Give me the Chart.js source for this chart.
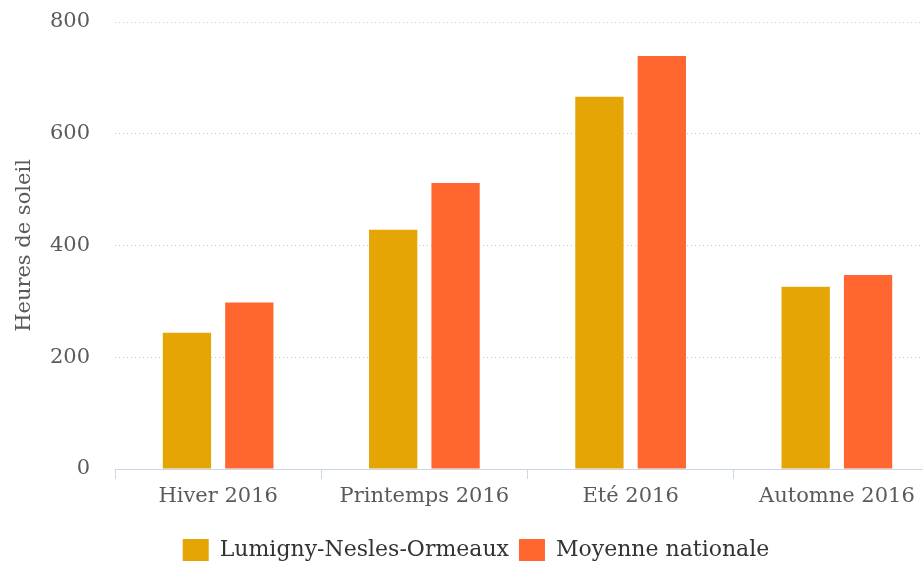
<!DOCTYPE html>
<html>
<head>
<meta charset="utf-8">
<script src="https://cdn.jsdelivr.net/npm/chart.js@4/dist/chart.umd.min.js"></script>
<style>
  html, body { margin: 0; padding: 0; background: #fff; overflow: hidden; }
  #wrap { width: 940px; height: 561px; position: relative; }
</style>
</head>
<body>
<div id="wrap"><canvas id="c"></canvas></div>
<script>
// Sunshine hours per season, 2016
const categories = ['Hiver 2016', 'Printemps 2016', 'Eté 2016', 'Automne 2016'];
const lumigny = [244, 428, 666, 326];
const moyenne = [298, 512, 739, 347];
const seriesNames = ['Lumigny-Nesles-Ormeaux', 'Moyenne nationale'];
const yTicks = [0, 200, 400, 600, 800];

const FONT = '"DejaVu Serif", serif';
const TEXT = '#5a5a5a';

new Chart(document.getElementById('c'), {
  type: 'bar',
  data: {
    labels: categories,
    datasets: [
      { label: seriesNames[0], data: lumigny, backgroundColor: '#e5a505', borderWidth: 0 },
      { label: seriesNames[1], data: moyenne, backgroundColor: '#ff6630', borderWidth: 0 }
    ]
  },
  options: {
    responsive: true,
    maintainAspectRatio: false,
    animation: false,
    categoryPercentage: 0.605,
    barPercentage: 0.774,
    layout: { padding: { left: 12, right: 0, top: 22, bottom: -10 } },
    plugins: {
      tooltip: { enabled: false },
      legend: {
        position: 'bottom',
        labels: {
          boxWidth: 26,
          boxHeight: 22,
          padding: 10,
          color: '#333',
          font: { family: FONT, size: 22 }
        }
      }
    },
    scales: {
      x: {
        grid: {
          offset: true,
          drawOnChartArea: false,
          drawTicks: true,
          tickLength: 10,
          color: '#ccd6eb'
        },
        border: { display: true, color: '#ccd6eb', width: 1 },
        ticks: { color: TEXT, font: { family: FONT, size: 21 }, padding: 5 },
        afterFit: s => { s.height = 60; }
      },
      y: {
        min: 0,
        max: 800,
        afterBuildTicks: s => { s.ticks = yTicks.map(v => ({ value: v })); },
        grid: {
          drawTicks: true,
          tickLength: 25,
          tickColor: 'rgba(0,0,0,0)',
          color: '#c8c8c8',
          lineWidth: 1
        },
        border: { display: false, dash: [1, 3] },
        ticks: { color: TEXT, font: { family: FONT, size: 21 }, padding: 0 },
        title: {
          display: true,
          text: 'Heures de soleil',
          color: TEXT,
          font: { family: FONT, size: 21 },
          padding: { top: 0, bottom: 0 }
        },
        afterFit: s => { s.width = 103; }
      }
    }
  }
});
</script>
</body>
</html>
